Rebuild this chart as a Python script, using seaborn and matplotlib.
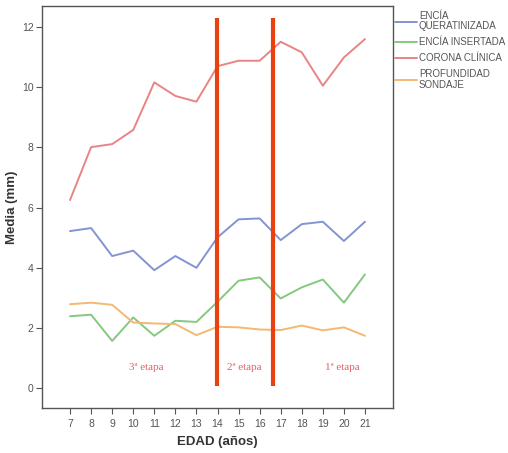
import matplotlib
matplotlib.use("Agg")
import matplotlib.pyplot as plt
import seaborn as sns
import pandas as pd

# Mean values (mm) per age, one list per measurement
edades = [7, 8, 9, 10, 11, 12, 13, 14, 15, 16, 17, 18, 19, 20, 21]
encia_queratinizada = [5.22, 5.32, 4.39, 4.57, 3.92, 4.39, 4.00, 5.01, 5.61, 5.64, 4.92, 5.45, 5.53, 4.89, 5.53]
encia_insertada = [2.39, 2.44, 1.57, 2.35, 1.74, 2.24, 2.20, 2.87, 3.57, 3.68, 2.98, 3.35, 3.61, 2.84, 3.78]
corona_clinica = [6.25, 8.01, 8.11, 8.58, 10.16, 9.71, 9.52, 10.70, 10.88, 10.88, 11.51, 11.16, 10.05, 10.99, 11.60]
profundidad_sondaje = [2.79, 2.84, 2.77, 2.18, 2.15, 2.13, 1.76, 2.04, 2.02, 1.95, 1.93, 2.08, 1.92, 2.02, 1.74]

series_names = ["ENCÍA\nQUERATINIZADA", "ENCÍA INSERTADA", "CORONA CLÍNICA", "PROFUNDIDAD\nSONDAJE"]
series_values = [encia_queratinizada, encia_insertada, corona_clinica, profundidad_sondaje]
series_colors = ["#8494d2", "#84c97e", "#e98484", "#f4b873"]

# Stage boundaries (age) and stage labels
limites_etapa = [13.96, 16.65]
etapas = ["3ª etapa", "2ª etapa", "1ª etapa"]
etapas_x = [10.6, 15.26, 19.94]

rows = []
for name, vals in zip(series_names, series_values):
    for e, v in zip(edades, vals):
        rows.append({"edad": e, "media": v, "serie": name})
df = pd.DataFrame(rows)

sns.set_theme(style="white")
plt.rcParams["font.family"] = ["Liberation Sans", "DejaVu Sans"]

fig = plt.figure(figsize=(5.08, 4.53), dpi=100)
ax = fig.add_axes([0.0827, 0.0993, 0.6909, 0.8875])

sns.lineplot(data=df, x="edad", y="media", hue="serie", hue_order=series_names,
             palette=series_colors, linewidth=1.4, ax=ax, legend=True)

for xb in limites_etapa:
    ax.plot([xb, xb], [0.08, 12.3], color="#e8400f", linewidth=3.0, solid_capstyle="butt", zorder=5)

for xt, txt in zip(etapas_x, etapas):
    ax.text(xt, 0.68, txt, color="#e46060", fontsize=8, ha="center", va="center",
            family=["Liberation Serif", "DejaVu Serif"])

ax.set_xlim(5.67, 22.33)
ax.set_ylim(-0.66, 12.7)
ax.set_xticks(edades)
ax.set_yticks([0, 2, 4, 6, 8, 10, 12])
ax.tick_params(axis="both", which="both", direction="out", length=4, width=0.8,
               color="#555555", labelcolor="#555555", labelsize=7.5,
               bottom=True, left=True, pad=2)
ax.tick_params(axis="x", pad=4)

for s in ax.spines.values():
    s.set_color("#555555")
    s.set_linewidth(1.0)

ax.set_xlabel("EDAD (años)", fontsize=9.5, fontweight="bold", color="#333333", labelpad=5)
ax.set_ylabel("Media (mm)", fontsize=9.5, fontweight="bold", color="#333333", labelpad=3)

handles, labels = ax.get_legend_handles_labels()
leg = ax.legend(handles, labels, loc="upper left", bbox_to_anchor=(0.995, 0.998),
                frameon=False, fontsize=7.0, handlelength=2.2, handletextpad=0.25,
                labelspacing=0.6, borderaxespad=0.0)
for t in leg.get_texts():
    t.set_color("#555555")
    t.set_linespacing(1.1)

fig.savefig("out.png", dpi=100)
